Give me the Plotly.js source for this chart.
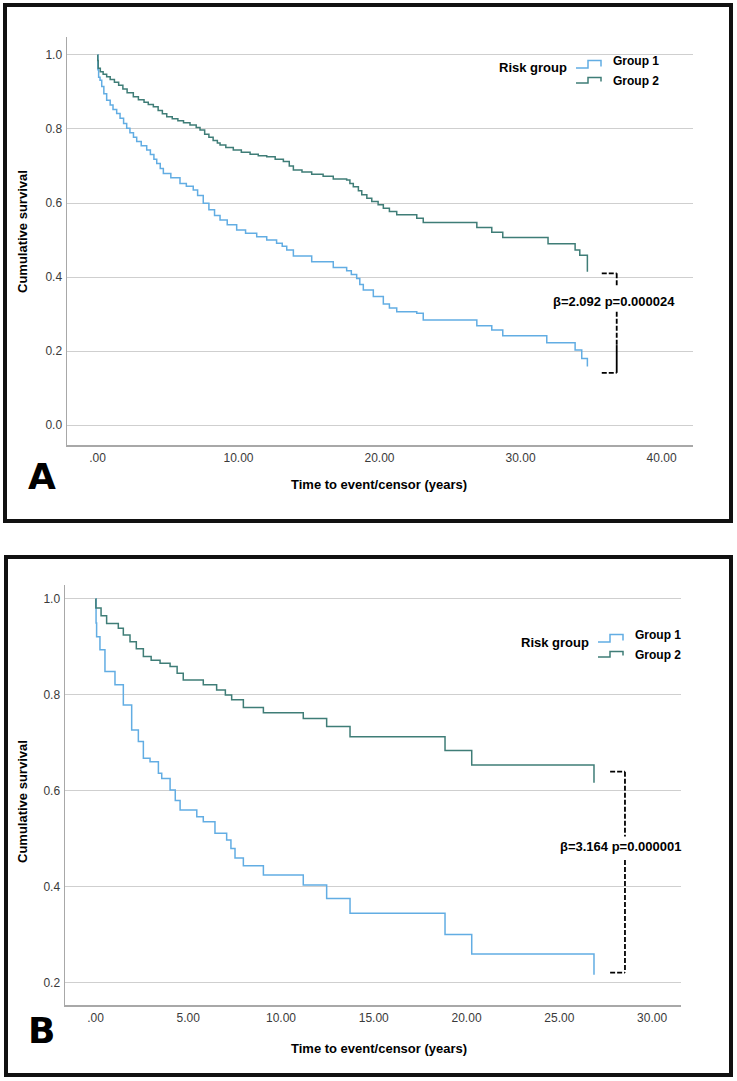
<!DOCTYPE html>
<html>
<head>
<meta charset="utf-8">
<script src="https://cdn.plot.ly/plotly-3.0.1.min.js"></script>
<style>html,body{margin:0;padding:0;background:#fff;}#chart{width:737px;height:1081px;}</style>
</head>
<body>
<div id="chart"></div>
<script>
// ---------- Data ----------
const groupNames = ['Group 1', 'Group 2'];
const legendTitle = 'Risk group';

// Panel A
const timeA1 = [0,0.03,0.08,0.18,0.3,0.45,0.65,0.9,1.1,1.36,1.6,1.85,2.07,2.3,2.55,2.78,3.1,3.49,3.75,4.0,4.2,4.45,4.67,5.2,5.85,6.3,6.79,7.1,7.5,7.9,8.3,8.69,9.2,9.87,10.5,11.29,12.0,12.7,13.1,13.42,13.89,15.19,16.72,17.67,18.0,18.38,18.6,18.85,19.56,20.27,20.7,21.22,22.64,23.1,26.9,27.96,28.74,31.86,33.87,34.34,34.74];
const survA1 = [1.0,0.96,0.94,0.932,0.915,0.895,0.878,0.865,0.853,0.842,0.829,0.815,0.802,0.79,0.778,0.766,0.755,0.743,0.731,0.718,0.707,0.693,0.68,0.668,0.653,0.645,0.635,0.62,0.599,0.582,0.566,0.554,0.541,0.527,0.518,0.509,0.5,0.491,0.483,0.473,0.457,0.441,0.426,0.417,0.407,0.396,0.38,0.365,0.347,0.327,0.316,0.306,0.302,0.284,0.268,0.257,0.241,0.222,0.203,0.18,0.158];
const timeA2 = [0,0.02,0.05,0.2,0.4,0.65,0.9,1.2,1.5,1.8,2.1,2.54,2.9,3.3,3.6,3.96,4.3,4.6,4.91,5.3,5.7,6.1,6.56,7.0,7.27,7.6,7.9,8.2,8.5,8.69,9.1,9.63,10.2,10.82,11.4,12.0,12.6,13.18,13.6,13.89,14.5,15.19,16.0,16.72,17.67,17.9,18.14,18.5,18.74,19.1,19.45,19.9,20.27,20.7,21.22,22.64,23.1,26.9,27.96,28.74,31.95,33.87,34.2,34.74];
const survA2 = [1.0,0.985,0.964,0.955,0.948,0.941,0.934,0.926,0.918,0.908,0.898,0.887,0.879,0.872,0.866,0.86,0.85,0.841,0.833,0.828,0.822,0.817,0.811,0.804,0.797,0.786,0.778,0.769,0.762,0.757,0.75,0.743,0.737,0.732,0.728,0.725,0.718,0.712,0.7,0.689,0.684,0.678,0.672,0.665,0.662,0.653,0.644,0.633,0.622,0.613,0.604,0.595,0.586,0.577,0.568,0.559,0.547,0.534,0.521,0.507,0.49,0.473,0.459,0.414];
const xTickValsA = [0,10,20,30,40];
const xTickTextA = ['.00','10.00','20.00','30.00','40.00'];
const yTickValsA = [0,0.2,0.4,0.6,0.8,1.0];
const yTickTextA = ['0.0','0.2','0.4','0.6','0.8','1.0'];
const statA = 'β=2.092 p=0.000024';

// Panel B
const timeB1 = [0,0.03,0.06,0.24,0.51,1.05,1.5,1.95,2.31,2.58,2.94,3.39,3.57,4.02,4.3,4.56,5.46,5.81,6.44,7.07,7.3,7.52,7.97,9.05,11.2,12.46,13.72,18.84,20.28,26.87];
const survB1 = [1.0,0.95,0.921,0.894,0.849,0.821,0.779,0.727,0.703,0.668,0.661,0.637,0.626,0.602,0.58,0.56,0.546,0.536,0.512,0.498,0.48,0.46,0.444,0.425,0.404,0.376,0.345,0.301,0.26,0.217];
const timeB2 = [0,0.02,0.3,0.6,1.23,1.5,1.86,2.2,2.58,3.0,3.48,4.02,4.4,4.73,5.81,6.53,7.0,7.34,7.97,9.05,11.2,12.46,13.72,18.84,20.28,26.87];
const survB2 = [1.0,0.981,0.965,0.949,0.939,0.925,0.911,0.896,0.88,0.872,0.866,0.859,0.845,0.831,0.821,0.81,0.8,0.79,0.774,0.763,0.751,0.734,0.713,0.684,0.654,0.617];
const xTickValsB = [0,5,10,15,20,25,30];
const xTickTextB = ['.00','5.00','10.00','15.00','20.00','25.00','30.00'];
const yTickValsB = [0.2,0.4,0.6,0.8,1.0];
const yTickTextB = ['0.2','0.4','0.6','0.8','1.0'];
const statB = 'β=3.164 p=0.000001';

const xTitle = 'Time to event/censor (years)';
const yTitle = 'Cumulative survival';

// ---------- Styling ----------
const W = 737, H = 1081;
const px = x => x / W;
const py = y => 1 - y / H;
const C1 = '#62ade3';
const C2 = '#3f7d77';
const FONT = 'Liberation Sans, Arial, sans-serif';

function trace(x, y, color, xa, ya) {
  return {x: x, y: y, type: 'scatter', mode: 'lines', line: {shape: 'hv', color: color, width: 1.5},
          xaxis: xa, yaxis: ya, hoverinfo: 'skip', showlegend: false};
}
const data = [
  trace(timeA1, survA1, C1, 'x', 'y'),
  trace(timeA2, survA2, C2, 'x', 'y'),
  trace(timeB1, survB1, C1, 'x2', 'y2'),
  trace(timeB2, survB2, C2, 'x2', 'y2')
];

const tickfont = {family: FONT, size: 12, color: '#3a3a3a'};
function xAxis(domain, range, vals, text, anchor) {
  return {domain: domain, range: range, tickvals: vals, ticktext: text, showgrid: false, zeroline: false,
          showline: true, linecolor: '#a8a8a8', linewidth: 1.5, ticks: '', tickfont: tickfont,
          ticklabelstandoff: 1, anchor: anchor, fixedrange: true};
}
function yAxis(domain, range, vals, text, anchor) {
  return {domain: domain, range: range, tickvals: vals, ticktext: text, showgrid: true, gridcolor: '#cfcfcf',
          gridwidth: 1, zeroline: false, showline: true, linecolor: '#a8a8a8', linewidth: 1.5, ticks: '',
          tickfont: tickfont, ticklabelstandoff: 1, anchor: anchor, fixedrange: true};
}

const annotations = [];
const shapes = [];
function txt(text, x, y, size, opts) {
  annotations.push(Object.assign({text: text, x: px(x), y: py(y), xref: 'paper', yref: 'paper',
    showarrow: false, font: {family: FONT, size: size, color: '#000'}, xanchor: 'center', yanchor: 'middle'}, opts || {}));
}

// Panel frames
shapes.push({type: 'rect', xref: 'paper', yref: 'paper', x0: px(5), x1: px(731), y0: py(5), y1: py(521), line: {color: '#111', width: 4}});
shapes.push({type: 'rect', xref: 'paper', yref: 'paper', x0: px(6), x1: px(731), y0: py(557), y1: py(1075), line: {color: '#111', width: 4}});

// Axis titles
txt('<b>' + yTitle + '</b>', 22, 232, 13, {textangle: -90});
txt('<b>' + xTitle + '</b>', 379, 484, 13);
txt('<b>' + yTitle + '</b>', 22, 802, 13, {textangle: -90});
txt('<b>' + xTitle + '</b>', 379, 1048, 13);

// Panel letters
txt('<b>A</b>', 42, 476, 36, {font: {family: 'DejaVu Sans', size: 36, color: '#000'}});
txt('<b>B</b>', 41, 1030, 36, {font: {family: 'DejaVu Sans', size: 36, color: '#000'}});

// Legends
function legend(ax, ay) {
  txt('<b>' + legendTitle + '</b>', ax, ay, 13, {xanchor: 'left'});
  txt('<b>' + groupNames[0] + '</b>', ax + 114, ay - 7, 12, {xanchor: 'left'});
  txt('<b>' + groupNames[1] + '</b>', ax + 114, ay + 13, 12, {xanchor: 'left'});
  const sym = (lo, hi, color) => {
    const p = 'M ' + px(ax + 79) + ' ' + py(ay + lo) + ' L ' + px(ax + 91) + ' ' + py(ay + lo) +
              ' L ' + px(ax + 91) + ' ' + py(ay + hi) + ' L ' + px(ax + 104) + ' ' + py(ay + hi) +
              ' L ' + px(ax + 104) + ' ' + py(ay + lo - 1.5);
    shapes.push({type: 'path', xref: 'paper', yref: 'paper', path: p, line: {color: color, width: 1.5}});
  };
  sym(0, -7.5, C1);
  sym(15, 9.5, C2);
}
legend(497, 68);
legend(519, 642);

// Brackets with statistics
function bracket(xa, ya, x0, x1, yTop, yBot, gapTop, gapBot, solidFrom) {
  const dash = {color: '#000', width: 1.8, dash: '5px,2px'};
  const solid = {color: '#000', width: 1.8};
  shapes.push({type: 'line', xref: xa, yref: ya, x0: x0, x1: x1, y0: yTop, y1: yTop, line: dash});
  shapes.push({type: 'line', xref: xa, yref: ya, x0: x0, x1: x1, y0: yBot, y1: yBot, line: dash});
  shapes.push({type: 'line', xref: xa, yref: ya, x0: x1, x1: x1, y0: yTop, y1: gapTop, line: dash});
  const lowEnd = solidFrom !== null ? solidFrom : yBot;
  shapes.push({type: 'line', xref: xa, yref: ya, x0: x1, x1: x1, y0: gapBot, y1: lowEnd, line: dash});
  if (solidFrom !== null) shapes.push({type: 'line', xref: xa, yref: ya, x0: x1, x1: x1, y0: solidFrom, y1: yBot, line: solid});
}
bracket('x', 'y', 35.76, 36.82, 0.41, 0.141, 0.374, 0.306, 0.216);
bracket('x2', 'y2', 27.74, 28.54, 0.64, 0.2215, 0.505, 0.456, null);
annotations.push({text: '<b>' + statA + '</b>', x: 36.6, y: 0.335, xref: 'x', yref: 'y', showarrow: false,
  font: {family: FONT, size: 13, color: '#000'}, xanchor: 'center', yanchor: 'middle'});
annotations.push({text: '<b>' + statB + '</b>', x: 28.3, y: 0.484, xref: 'x2', yref: 'y2', showarrow: false,
  font: {family: FONT, size: 13, color: '#000'}, xanchor: 'center', yanchor: 'middle'});

const layout = {
  width: W, height: H, margin: {l: 0, r: 0, t: 0, b: 0},
  paper_bgcolor: '#fff', plot_bgcolor: '#fff', showlegend: false,
  xaxis: xAxis([67 / W, 693 / W], [-2.163, 42.23], xTickValsA, xTickTextA, 'y'),
  yaxis: yAxis([1 - 445 / H, 1 - 37 / H], [-0.054, 1.0486], yTickValsA, yTickTextA, 'x'),
  xaxis2: xAxis([65 / W, 681 / W], [-1.644, 31.56], xTickValsB, xTickTextB, 'y2'),
  yaxis2: yAxis([1 - 1005 / H, 1 - 585 / H], [0.154, 1.029], yTickValsB, yTickTextB, 'x2'),
  annotations: annotations, shapes: shapes
};
Plotly.newPlot('chart', data, layout, {displayModeBar: false, staticPlot: true});
</script>
</body>
</html>
